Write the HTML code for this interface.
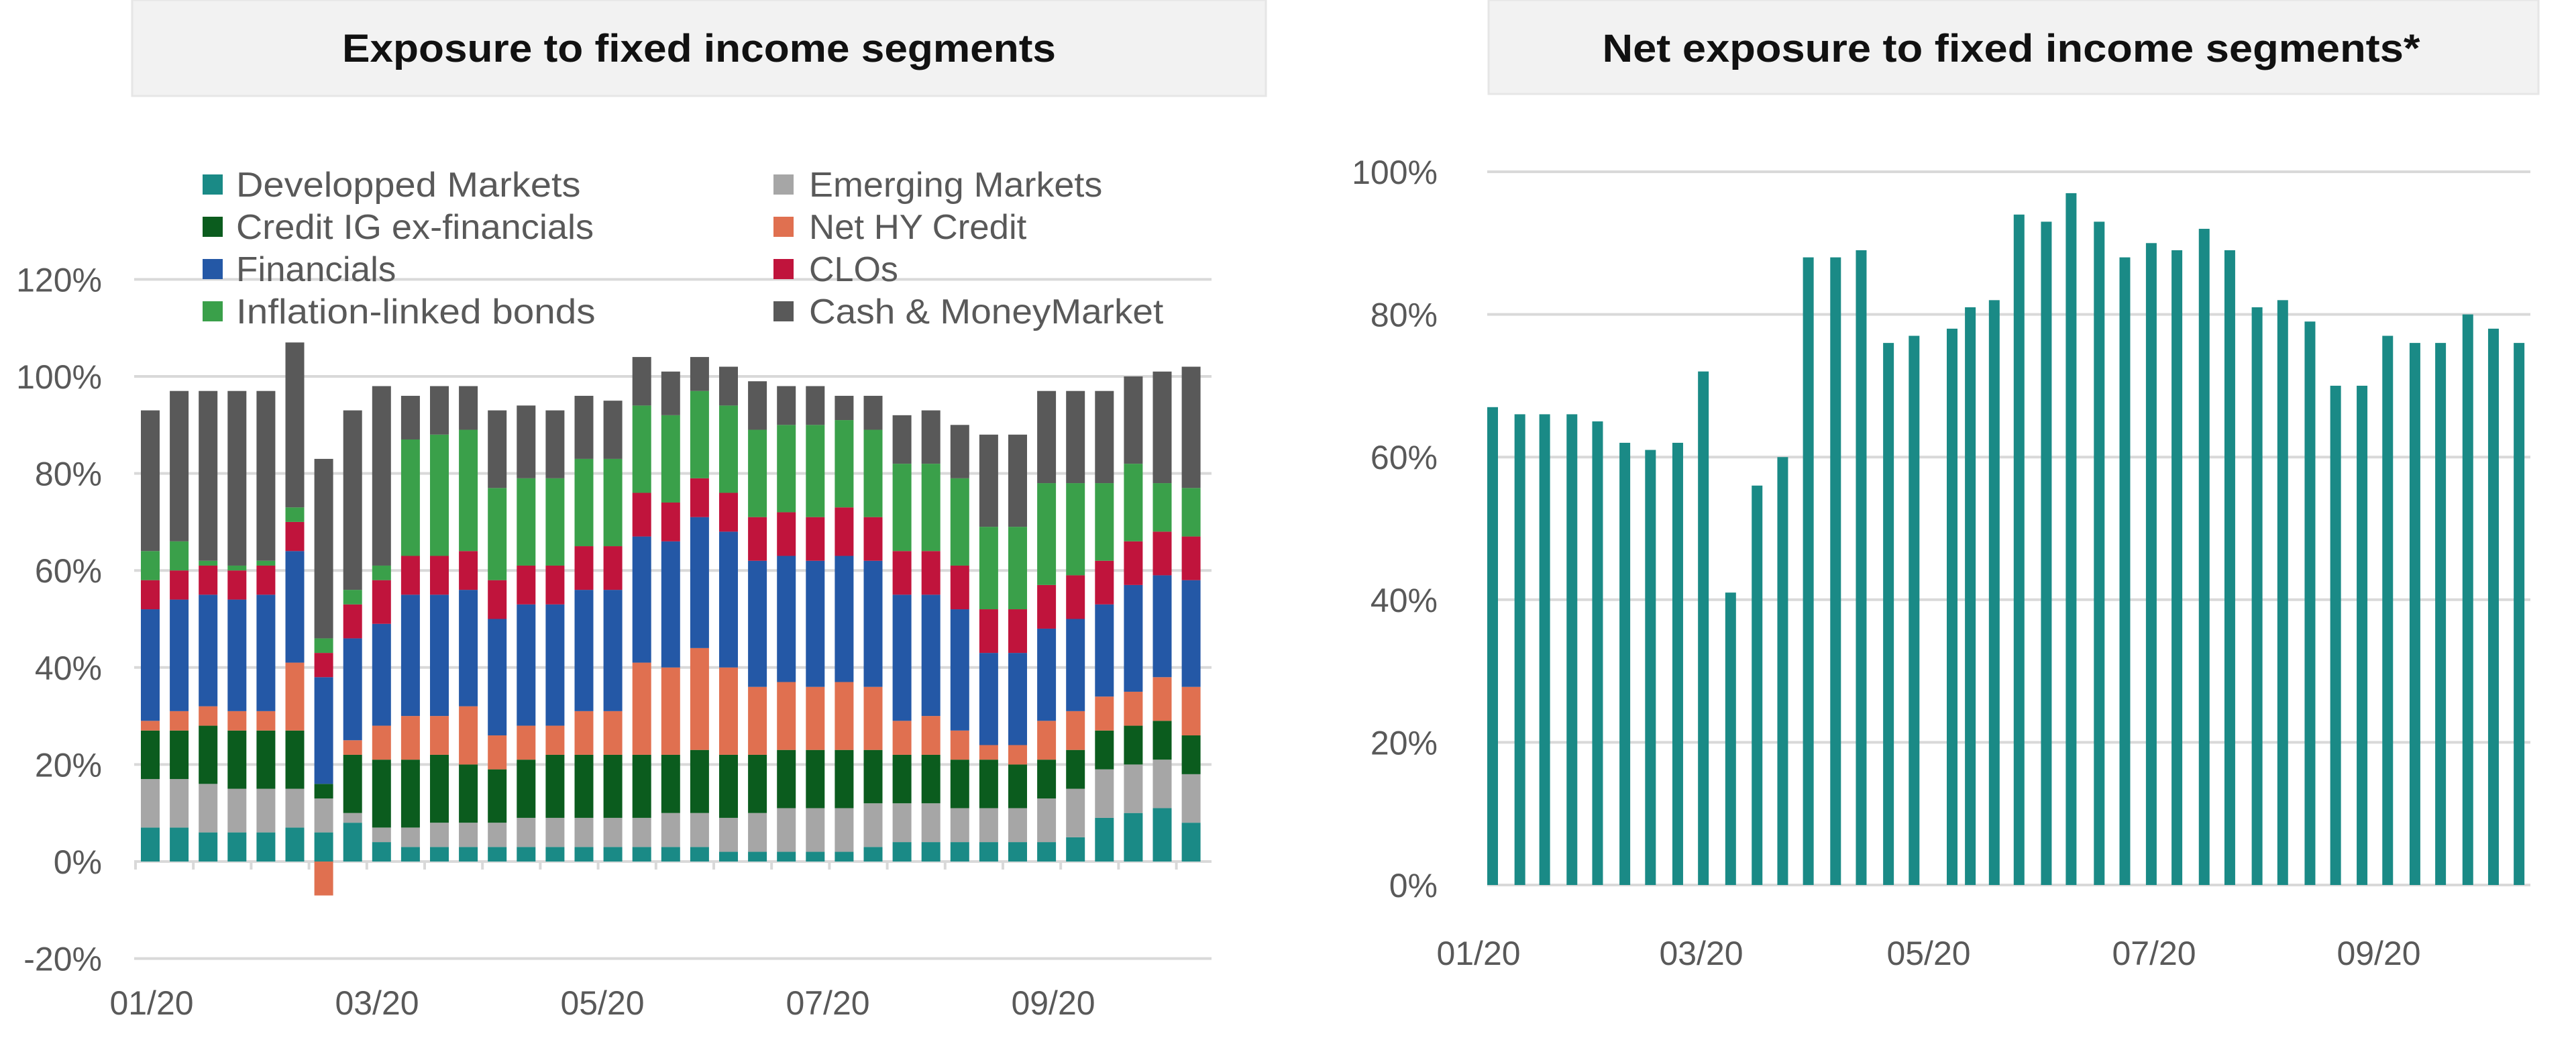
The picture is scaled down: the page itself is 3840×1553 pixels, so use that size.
<!DOCTYPE html>
<html><head><meta charset="utf-8"><style>
html,body{margin:0;padding:0;background:#fff;}
svg{display:block;}
text{font-family:"Liberation Sans",sans-serif;}
</style></head><body>
<svg id="s" width="3840" height="1553" viewBox="0 0 3840 1553" xmlns="http://www.w3.org/2000/svg">
<rect x="197" y="0" width="1690" height="143" fill="#f2f2f2" stroke="#e6e6e6" stroke-width="3"/>
<text x="1042" y="92" font-size="58" font-weight="bold" text-anchor="middle" fill="#111" textLength="1064" lengthAdjust="spacingAndGlyphs">Exposure to fixed income segments</text>
<rect x="2219" y="0" width="1565" height="140" fill="#f2f2f2" stroke="#e6e6e6" stroke-width="3"/>
<text x="2998" y="92" font-size="58" font-weight="bold" text-anchor="middle" fill="#111" textLength="1219" lengthAdjust="spacingAndGlyphs">Net exposure to fixed income segments*</text>
<g id="L"></g><g id="R"></g>
</svg>
<script>
var NS="http://www.w3.org/2000/svg";
function el(p,t,a,tx){var e=document.createElementNS(NS,t);for(var k in a)e.setAttribute(k,a[k]);if(tx)e.textContent=tx;p.appendChild(e);return e;}
var L=document.getElementById('L'),R=document.getElementById('R');
var z0=1284,u=7.23;
[120,100,80,60,40,20,0,-20].forEach(function(v){var y=z0-v*u;
 el(L,'line',{x1:200,x2:1806,y1:y,y2:y,stroke:'#d9d9d9','stroke-width':4});
 el(L,'text',{x:152,y:y+18,'font-size':50,'text-anchor':'end',fill:'#595959'},v+'%');});
var cols=['#1a8a86','#a6a6a6','#0b5c1e','#e07050','#2458a6','#c0143c','#3aa04a','#595959'];
var D=[[7,17,27,29,52,58,64,93],[7,17,27,31,54,60,66,97],[6,16,28,32,55,61,62,97],[6,15,27,31,54,60,61,97],[6,15,27,31,55,61,62,97],[7,15,27,41,64,70,73,107],[6,13,16,16,38,43,46,83],[8,10,22,25,46,53,56,93],[4,7,21,28,49,58,61,98],[3,7,21,30,55,63,87,96],[3,8,22,30,55,63,88,98],[3,8,20,32,56,64,89,98],[3,8,19,26,50,58,77,93],[3,9,21,28,53,61,79,94],[3,9,22,28,53,61,79,93],[3,9,22,31,56,65,83,96],[3,9,22,31,56,65,83,95],[3,9,22,41,67,76,94,104],[3,10,22,40,66,74,92,101],[3,10,23,44,71,79,97,104],[2,9,22,40,68,76,94,102],[2,10,22,36,62,71,89,99],[2,11,23,37,63,72,90,98],[2,11,23,36,62,71,90,98],[2,11,23,37,63,73,91,96],[3,12,23,36,62,71,89,96],[4,12,22,29,55,64,82,92],[4,12,22,30,55,64,82,93],[4,11,21,27,52,61,79,90],[4,11,21,24,43,52,69,88],[4,11,20,24,43,52,69,88],[4,13,21,29,48,57,78,97],[5,15,23,31,50,59,78,97],[9,19,27,34,53,62,78,97],[10,20,28,35,57,66,82,100],[11,21,29,38,59,68,78,101],[8,18,26,36,58,67,77,102]];
var sp=43.1;
D.forEach(function(b,i){var cx=224+i*sp,w=28,prev=0;
 b.forEach(function(v,j){if(v>prev){el(L,'rect',{x:cx-w/2,y:z0-v*u,width:w,height:(v-prev)*u,fill:cols[j]});}prev=Math.max(prev,v);});
 if(i==6)el(L,'rect',{x:cx-w/2,y:z0,width:w,height:7*u,fill:cols[3]});});
for(var i=0;i<=18;i++){var x=202+i*2*sp;el(L,'line',{x1:x,x2:x,y1:z0,y2:z0+12,stroke:'#d9d9d9','stroke-width':4});}
['01/20','03/20','05/20','07/20','09/20'].forEach(function(t,i){el(L,'text',{x:226+i*336,y:1512,'font-size':50,'text-anchor':'middle',fill:'#595959'},t);});
var leg=[['Developped Markets',0,209],['Emerging Markets',1,178],['Credit IG ex-financials',2,217],['Net HY Credit',3,132],['Financials',4,97],['CLOs',5,0],['Inflation-linked bonds',6,218],['Cash & MoneyMarket',7,215]];
leg.forEach(function(l,i){var r=Math.floor(i/2),c=i%2;var y=275+r*63;var x=c?1153:302;
 el(L,'rect',{x:x,y:y-15,width:30,height:30,fill:cols[l[1]]});
 var a={x:x+(c?53:50),y:y+18,'font-size':52,fill:'#595959'};
 if(l[2]){a.textLength=l[2]*2.457;a.lengthAdjust='spacingAndGlyphs';}
 el(L,'text',a,l[0]);});
var z1=1319,u1=10.63;
[100,80,60,40,20,0].forEach(function(v){var y=z1-v*u1;
 el(R,'line',{x1:2217,x2:3772,y1:y,y2:y,stroke:'#d9d9d9','stroke-width':4});
 el(R,'text',{x:2143,y:y+18,'font-size':50,'text-anchor':'end',fill:'#595959'},v+'%');});
var px=[250,283,313,346,377,410,441,474,505,538,570,601,632,665,696,729,760,806,828,857,887,920,950,984,1015,1047,1078,1111,1142,1175,1206,1239,1270,1302,1333,1366,1397,1430,1461,1492];
var pv=[67,66,66,66,65,62,61,62,72,41,56,60,88,88,89,76,77,78,81,82,94,93,97,93,88,90,89,92,89,81,82,79,70,70,77,76,76,80,78,76];
px.forEach(function(x,i){var cx=1917+x*1.232;el(R,'rect',{x:cx-8,y:z1-pv[i]*u1,width:16,height:pv[i]*u1,fill:'#1a8a86'});});
['01/20','03/20','05/20','07/20','09/20'].forEach(function(t,i){el(R,'text',{x:[2204,2536,2875,3211,3546][i],y:1438,'font-size':50,'text-anchor':'middle',fill:'#595959'},t);});
</script>
</body></html>
